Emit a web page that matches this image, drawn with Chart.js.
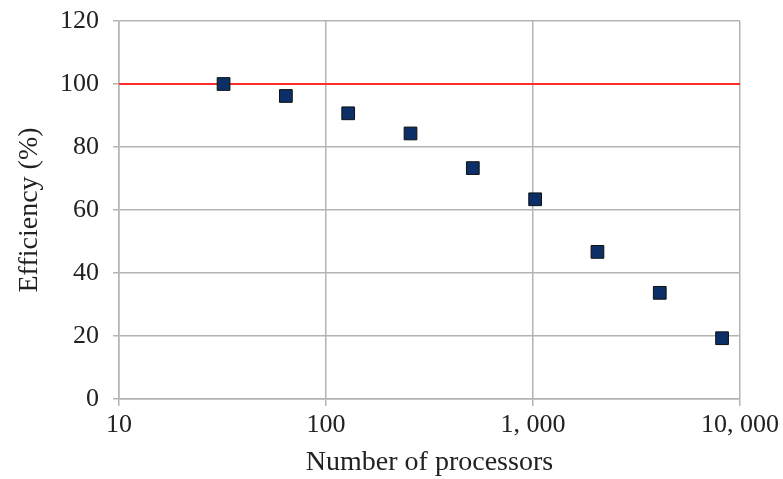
<!DOCTYPE html>
<html>
<head>
<meta charset="utf-8">
<script src="https://cdn.jsdelivr.net/npm/chart.js@4"></script>
<style>
  html, body { margin: 0; padding: 0; background: #fff; }
  #wrap { width: 783px; height: 479px; }
</style>
</head>
<body>
<div id="wrap"><canvas id="c" width="783" height="479"></canvas></div>
<script>
// Parallel efficiency versus processor count
const processors = [32, 64, 128, 256, 512, 1024, 2048, 4096, 8192];
const efficiency = [100, 96.2, 90.7, 84.3, 73.3, 63.4, 46.7, 33.7, 19.3];

// Ideal (100 %) reference across the full axis range
const idealX = [10, 10000];
const idealY = [100, 100];

const xTickValues = [10, 100, 1000, 10000];
const xTickLabels = ['10', '100', '1, 000', '10, 000'];
const yTickValues = [0, 20, 40, 60, 80, 100, 120];

const FONT = 'Liberation Serif, Times New Roman, serif';
const GRID = '#b4b4b4';

new Chart(document.getElementById('c'), {
  type: 'scatter',
  data: {
    datasets: [
      {
        type: 'line',
        data: idealX.map((x, i) => ({ x, y: idealY[i] })),
        borderColor: '#ff2a2a',
        borderWidth: 2,
        pointRadius: 0,
        order: 2
      },
      {
        data: processors.map((x, i) => ({ x, y: efficiency[i] })),
        pointStyle: 'rect',
        pointRadius: 9,
        backgroundColor: '#0b2f66',
        borderColor: '#111',
        borderWidth: 1,
        order: 1
      }
    ]
  },
  options: {
    responsive: false,
    animation: false,
    layout: { padding: { left: 8, right: 43, top: 21, bottom: 0 } },
    plugins: { legend: { display: false }, tooltip: { enabled: false } },
    scales: {
      x: {
        type: 'logarithmic',
        min: 10,
        max: 10000,
        afterBuildTicks: s => { s.ticks = xTickValues.map(v => ({ value: v })); },
        afterFit: s => { s.height = 80; s.paddingLeft = 0; s.paddingRight = 0; },
        ticks: {
          callback: (v) => xTickLabels[xTickValues.indexOf(v)],
          font: { family: FONT, size: 26 },
          color: '#222',
          maxRotation: 0,
          padding: 4
        },
        grid: { color: GRID, lineWidth: 1.5, tickLength: 7, tickColor: GRID },
        border: { color: GRID, width: 1.5 },
        title: {
          display: true,
          text: 'Number of processors',
          font: { family: FONT, size: 28 },
          color: '#222',
          padding: { top: 4, bottom: 0 }
        }
      },
      y: {
        min: 0,
        max: 120,
        afterBuildTicks: s => { s.ticks = yTickValues.map(v => ({ value: v })); },
        afterFit: s => { s.width = 111; s.paddingTop = 0; s.paddingBottom = 0; },
        ticks: {
          font: { family: FONT, size: 26 },
          color: '#222',
          padding: 14
        },
        grid: { color: GRID, lineWidth: 1.5, tickLength: 6, tickColor: GRID },
        border: { color: GRID, width: 1.5 },
        title: {
          display: true,
          text: 'Efficiency (%)',
          font: { family: FONT, size: 28 },
          color: '#222',
          padding: { top: 5, bottom: 0 }
        }
      }
    }
  }
});
</script>
</body>
</html>
